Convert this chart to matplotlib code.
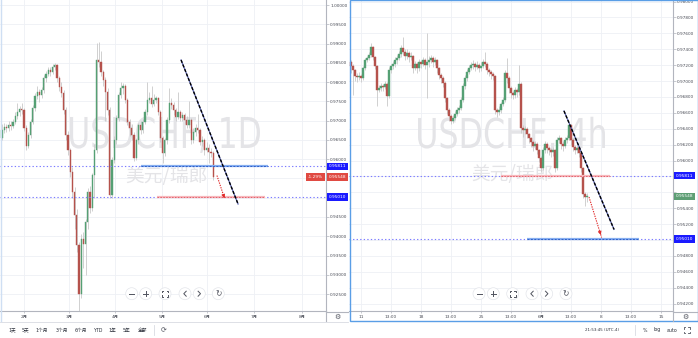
import matplotlib
matplotlib.use("Agg")
import matplotlib.pyplot as plt
from matplotlib.lines import Line2D
from matplotlib.patches import Rectangle, Ellipse, PathPatch
from matplotlib.textpath import TextPath
from matplotlib.font_manager import FontProperties
import matplotlib.transforms as mtransforms
import numpy as np

plt.rcParams['font.family'] = ['DejaVu Sans', 'Noto Sans CJK SC']

# ---- daily candles (left chart) ----
left_first_open = 0.9654
left_close = [0.9675, 0.9683, 0.9680, 0.9688, 0.9685, 0.9696, 0.9711, 0.9722, 0.9730, 0.9727,
              0.9680, 0.9633, 0.9662, 0.9696, 0.9732, 0.9763, 0.9774, 0.9766, 0.9779, 0.9810,
              0.9821, 0.9831, 0.9826, 0.9839, 0.9844, 0.9810, 0.9787, 0.9771, 0.9727, 0.9662,
              0.9623, 0.9566, 0.9514, 0.9454, 0.9376, 0.9251, 0.9394, 0.9381, 0.9436, 0.9514,
              0.9472, 0.9558, 0.9623, 0.9857, 0.9852, 0.9826, 0.9805, 0.9774, 0.9727, 0.9506,
              0.9597, 0.9649, 0.9706, 0.9766, 0.9784, 0.9789, 0.9753, 0.9696, 0.9680, 0.9662,
              0.9602, 0.9649, 0.9688, 0.9675, 0.9696, 0.9722, 0.9753, 0.9758, 0.9743, 0.9753,
              0.9758, 0.9722, 0.9654, 0.9615, 0.9649, 0.9701, 0.9745, 0.9740, 0.9727, 0.9709,
              0.9722, 0.9706, 0.9714, 0.9701, 0.9688, 0.9701, 0.9649, 0.9670, 0.9680, 0.9675,
              0.9644, 0.9649, 0.9623, 0.9628, 0.9618, 0.9615, 0.95548]
left_high = [0.9690, 0.9695, 0.9692, 0.9700, 0.9699, 0.9705, 0.9722, 0.9745, 0.9738, 0.9745,
             0.9732, 0.9688, 0.9670, 0.9705, 0.9740, 0.9772, 0.9790, 0.9782, 0.9788, 0.9818,
             0.9830, 0.9840, 0.9838, 0.9846, 0.9850, 0.9848, 0.9815, 0.9800, 0.9780, 0.9735,
             0.9672, 0.9630, 0.9580, 0.9528, 0.9470, 0.9385, 0.9405, 0.9410, 0.9445, 0.9525,
             0.9530, 0.9565, 0.9640, 0.9902, 0.9905, 0.9880, 0.9832, 0.9812, 0.9785, 0.9735,
             0.9605, 0.9660, 0.9715, 0.9775, 0.9800, 0.9798, 0.9795, 0.9760, 0.9705, 0.9690,
             0.9670, 0.9655, 0.9695, 0.9700, 0.9705, 0.9730, 0.9800, 0.9775, 0.9790, 0.9770,
             0.9765, 0.9762, 0.9728, 0.9660, 0.9655, 0.9710, 0.9785, 0.9760, 0.9748, 0.9732,
             0.9775, 0.9728, 0.9722, 0.9720, 0.9712, 0.9750, 0.9706, 0.9680, 0.9690, 0.9718,
             0.9682, 0.9660, 0.9655, 0.9645, 0.9640, 0.9630, 0.9620]
left_low = [0.9650, 0.9668, 0.9670, 0.9672, 0.9676, 0.9680, 0.9690, 0.9705, 0.9712, 0.9718,
            0.9672, 0.9625, 0.9628, 0.9655, 0.9690, 0.9725, 0.9755, 0.9748, 0.9760, 0.9772,
            0.9800, 0.9815, 0.9815, 0.9820, 0.9832, 0.9800, 0.9778, 0.9762, 0.9718, 0.9650,
            0.9610, 0.9555, 0.9500, 0.9420, 0.9360, 0.9185, 0.9240, 0.9318, 0.9300, 0.9420,
            0.9460, 0.9465, 0.9500, 0.9615, 0.9840, 0.9815, 0.9790, 0.9700, 0.9715, 0.9500,
            0.9500, 0.9590, 0.9640, 0.9700, 0.9760, 0.9770, 0.9745, 0.9688, 0.9660, 0.9650,
            0.9595, 0.9598, 0.9640, 0.9665, 0.9668, 0.9690, 0.9715, 0.9745, 0.9735, 0.9738,
            0.9745, 0.9715, 0.9645, 0.9590, 0.9608, 0.9640, 0.9695, 0.9730, 0.9715, 0.9700,
            0.9705, 0.9698, 0.9700, 0.9690, 0.9680, 0.9682, 0.9640, 0.9642, 0.9660, 0.9668,
            0.9638, 0.9635, 0.9612, 0.9618, 0.9590, 0.9605, 0.9545]
left_months = ['2月', '3月', '4月', '5月', '6月', '7月', '8月']
left_month_pos = [10, 30.45, 51.4, 72.7, 93.2, 114.5, 136.4]

# ---- 4h candles (right chart) ----
right_first_open = 0.97239
right_close = [0.97189, 0.97138, 0.97063, 0.97050, 0.97063, 0.97038, 0.97164, 0.97264, 0.97289, 0.97327,
               0.97428, 0.97302, 0.97189, 0.96887, 0.96912, 0.96937, 0.96925, 0.96962, 0.96811, 0.97138,
               0.97189, 0.97214, 0.97264, 0.97289, 0.97340, 0.97415, 0.97365, 0.97315, 0.97352, 0.97302,
               0.97315, 0.97164, 0.97214, 0.97164, 0.97239, 0.97214, 0.97264, 0.97201, 0.97239, 0.97264,
               0.97289, 0.97239, 0.97264, 0.97164, 0.97076, 0.97038, 0.96975, 0.96786, 0.96635, 0.96560,
               0.96497, 0.96535, 0.96585, 0.96635, 0.96660, 0.96761, 0.96937, 0.97038, 0.97113, 0.97164,
               0.97201, 0.97214, 0.97176, 0.97201, 0.97164, 0.97189, 0.97239, 0.97214, 0.97138, 0.97113,
               0.97088, 0.97063, 0.96635, 0.96610, 0.96635, 0.96711, 0.96761, 0.97101, 0.97038, 0.96912,
               0.96849, 0.96824, 0.96887, 0.96862, 0.96962, 0.96409, 0.96384, 0.96396, 0.96333, 0.96283,
               0.96233, 0.96182, 0.96207, 0.96132, 0.96031, 0.95906, 0.96132, 0.96207, 0.96157, 0.96132,
               0.96107, 0.96132, 0.95906, 0.96258, 0.96283, 0.96207, 0.96182, 0.96258, 0.96283, 0.96447,
               0.96258, 0.96170, 0.96132, 0.96157, 0.96094, 0.95906, 0.95578, 0.95541, 0.95548]
right_high = [0.97264, 0.97214, 0.97150, 0.97100, 0.97113, 0.97088, 0.97189, 0.97290, 0.97315, 0.97365,
              0.97480, 0.97440, 0.97320, 0.97200, 0.96950, 0.96980, 0.96960, 0.97000, 0.96990, 0.97170,
              0.97220, 0.97250, 0.97300, 0.97330, 0.97380, 0.97450, 0.97554, 0.97400, 0.97400, 0.97380,
              0.97360, 0.97330, 0.97250, 0.97240, 0.97280, 0.97260, 0.97300, 0.97290, 0.97604, 0.97310,
              0.97330, 0.97310, 0.97300, 0.97280, 0.97180, 0.97100, 0.97060, 0.97000, 0.96800, 0.96660,
              0.96580, 0.96570, 0.96620, 0.96670, 0.96700, 0.96800, 0.96970, 0.97080, 0.97150, 0.97200,
              0.97240, 0.97260, 0.97240, 0.97250, 0.97230, 0.97240, 0.97280, 0.97365, 0.97240, 0.97160,
              0.97140, 0.97110, 0.97080, 0.96660, 0.96680, 0.96740, 0.96800, 0.97140, 0.97289, 0.97060,
              0.96940, 0.96880, 0.96920, 0.96910, 0.97201, 0.96990, 0.96450, 0.96440, 0.96420, 0.96350,
              0.96300, 0.96260, 0.96250, 0.96230, 0.96150, 0.96060, 0.96170, 0.96250, 0.96230, 0.96180,
              0.96160, 0.96170, 0.96150, 0.96300, 0.96320, 0.96300, 0.96240, 0.96290, 0.96320, 0.96480,
              0.96460, 0.96280, 0.96200, 0.96190, 0.96180, 0.96110, 0.95920, 0.95600, 0.95590]
right_low = [0.97100, 0.96824, 0.97000, 0.96990, 0.97010, 0.96990, 0.97010, 0.97140, 0.97240, 0.97270,
             0.97300, 0.97270, 0.97150, 0.96680, 0.96860, 0.96880, 0.96880, 0.96900, 0.96680, 0.96780,
             0.97100, 0.97150, 0.97180, 0.97220, 0.97260, 0.97300, 0.97330, 0.97260, 0.97280, 0.97240,
             0.97260, 0.97100, 0.97140, 0.97100, 0.97130, 0.97160, 0.97190, 0.97150, 0.96786, 0.97180,
             0.97230, 0.97180, 0.97200, 0.97100, 0.97020, 0.96980, 0.96920, 0.96740, 0.96580, 0.96500,
             0.96460, 0.96470, 0.96510, 0.96560, 0.96600, 0.96640, 0.96740, 0.96900, 0.97000, 0.97090,
             0.97140, 0.97150, 0.97120, 0.97150, 0.97110, 0.97130, 0.97160, 0.97170, 0.97090, 0.97060,
             0.97030, 0.97010, 0.96590, 0.96550, 0.96570, 0.96600, 0.96690, 0.96730, 0.96980, 0.96850,
             0.96790, 0.96770, 0.96790, 0.96800, 0.96830, 0.96350, 0.96300, 0.96330, 0.96280, 0.96220,
             0.96170, 0.96120, 0.96140, 0.96080, 0.95980, 0.95850, 0.95880, 0.96100, 0.96100, 0.96070,
             0.96050, 0.96060, 0.95850, 0.95880, 0.96220, 0.96150, 0.96120, 0.96160, 0.96220, 0.96260,
             0.96200, 0.96120, 0.96080, 0.96100, 0.96040, 0.95860, 0.95530, 0.95430, 0.95480]
right_times = ['11', '13:00', '18', '13:00', '25', '13:00', '6月', '13:00', '8', '13:00', '15']
right_time_pos = [5, 20, 35, 50, 65, 80, 95, 110, 125, 140, 155]

# drawn levels / tools
level_hi = 0.95811
level_lo = 0.95010
last_price = 0.95548
change_pct = '-1.29%'
left_trend = [(81.4, 0.98573), (107.3, 0.94836)]
left_arrow = [(97.7, 0.95575), (101.1, 0.94992)]
left_blue_seg = (63.2, 120.9)
left_pink_seg = (70.5, 119.5)
right_trend = [(106.5, 0.96623), (131.5, 0.95134)]
right_arrow = [(119.0, 0.95541), (125.3, 0.95031)]
right_pink_seg = (75.0, 129.5)
right_blue_seg = (88.0, 144.0)

UP = '#55a074'
DOWN = '#b5524c'
WICK = '#c9c9c9'
GRID = '#eef0f5'
AXIS = '#b2b5be'
TXT = '#4a4d57'
DOTBLUE = '#7b7bff'
WMARK = '#e4e4e7'

W, H = 698, 338
fig = plt.figure(figsize=(W / 100, H / 100), dpi=100)
fig.patch.set_facecolor('white')


def fx(x):
    return x / W


def fy(y):
    return 1 - y / H


def fig_line(xs, ys, **kw):
    fig.add_artist(Line2D([fx(x) for x in xs], [fy(y) for y in ys], **kw))


def candles(ax, first_open, close, high, low):
    opens = [first_open] + close[:-1]
    x = np.arange(len(close))
    o = np.array(opens)
    c = np.array(close)
    top = np.maximum(np.array(high), np.maximum(o, c))
    bot = np.minimum(np.array(low), np.minimum(o, c))
    ax.vlines(x, bot, top, color=WICK, lw=0.6, zorder=2)
    cols = [UP if cc >= oo else DOWN for oo, cc in zip(o, c)]
    ax.bar(x, np.abs(c - o), bottom=np.minimum(o, c), width=0.62,
           color=cols, edgecolor=cols, lw=0.3, zorder=3)


def style_axis(ax, yticks, hidden, xpos, xlabels):
    ax.set_facecolor('white')
    for s in ('top', 'left'):
        ax.spines[s].set_visible(False)
    for s in ('right', 'bottom'):
        ax.spines[s].set_color(AXIS)
        ax.spines[s].set_linewidth(0.8)
    ax.yaxis.tick_right()
    ax.set_yticks(yticks)
    ax.set_yticklabels(['' if round(v, 3) in hidden else '{:.5f}'.format(v) for v in yticks])
    ax.set_xticks(xpos)
    ax.set_xticklabels(xlabels)
    ax.tick_params(axis='y', labelsize=3.1, length=2, width=0.5, pad=1,
                   colors=AXIS, labelcolor=TXT)
    ax.tick_params(axis='x', labelsize=3.1, length=1.5, width=0.5, pad=1.5,
                   colors=AXIS, labelcolor=TXT)
    ax.grid(True, color=GRID, lw=0.6, zorder=0)
    ax.set_axisbelow(True)


def watermark(ax, text, x0, x1, cap_top, cap_bot):
    # big faint symbol text, stretched to the box it fills in the screenshot
    tp = TextPath((0, 0), text, size=1, prop=FontProperties(family='DejaVu Sans'))
    ext = tp.get_extents()
    tr = (mtransforms.Affine2D().translate(-ext.x0, 0)
          .scale((x1 - x0) / ext.width, (cap_bot - cap_top) / 0.729)
          .translate(x0, H - cap_bot))
    ax.add_patch(PathPatch(tr.transform_path(tp), transform=mtransforms.IdentityTransform(),
                           fc=WMARK, ec='none', zorder=1))


def price_tag(ax, y, text, fc, x=1.0085, ha='left'):
    ax.text(x, y, text, transform=ax.get_yaxis_transform(), ha=ha, va='center',
            fontsize=3.1, color='white', clip_on=False, zorder=12,
            bbox=dict(boxstyle='square,pad=0.45', fc=fc, ec='none'))


def tools(ax, trend, arrow, blue_seg, pink_seg):
    ax.axhline(level_hi, color=DOTBLUE, lw=0.8, ls=(0, (1.2, 2)), zorder=4)
    ax.axhline(level_lo, color=DOTBLUE, lw=0.8, ls=(0, (1.2, 2)), zorder=4)
    by, py = blue_seg[2], pink_seg[2]
    ax.plot(blue_seg[:2], [by, by], color='#86aef0', lw=1.6, zorder=5, solid_capstyle='butt')
    ax.plot(blue_seg[:2], [by, by], color='#2f5fc9', lw=0.7, ls=(0, (2, 1.5)), zorder=6)
    ax.plot(pink_seg[:2], [py, py], color='#f7b8bd', lw=1.6, zorder=5, solid_capstyle='butt')
    ax.plot(pink_seg[:2], [py, py], color='#e2606b', lw=0.7, ls=(0, (1.5, 1.5)), zorder=6)
    tx = [trend[0][0], trend[1][0]]
    ty = [trend[0][1], trend[1][1]]
    ax.plot(tx, ty, color='#5a64b0', lw=0.9, zorder=7)
    ax.plot(tx, ty, color='black', lw=1.0, ls=(0, (2.2, 1.3)), zorder=8)
    (x0, y0), (x1, y1) = arrow
    ax.plot([x0, x1], [y0, y1], color='#e02b2b', lw=0.8, ls=(0, (1.2, 1)), zorder=8)
    ax.annotate('', xy=(x1, y1), xytext=(x1 - (x1 - x0) * 0.2, y1 - (y1 - y0) * 0.2),
                arrowprops=dict(arrowstyle='-|>', color='#e02b2b', lw=0.6, mutation_scale=5),
                zorder=9)


# ---- left chart ----
ax1 = fig.add_axes([0, fy(311), fx(326), 311 / H])
candles(ax1, left_first_open, left_close, left_high, left_low)
style_axis(ax1, np.round(np.arange(0.925, 1.00001, 0.005), 3), {0.955, 0.95},
           left_month_pos, left_months)
tools(ax1, left_trend, left_arrow, left_blue_seg + (level_hi,), left_pink_seg + (level_lo,))
watermark(ax1, 'USDCHF, 1D', 70, 260, 117, 148)
ax1.text(0.512, 0.434, '美元/瑞郎', transform=ax1.transAxes, ha='center', va='center',
         fontsize=13.5, color=WMARK, family=['Noto Sans CJK SC'], zorder=1)
ax1.set_xlim(-0.909, 147.27)
ax1.set_ylim(0.9206, 1.0013)
price_tag(ax1, level_hi, '0.95811', '#1a1aff')
price_tag(ax1, last_price, '0.95548', '#e04a42')
price_tag(ax1, level_lo, '0.95010', '#1a1aff')
price_tag(ax1, last_price, change_pct, '#e04a42', x=0.991, ha='right')

# ---- right chart ----
ax2 = fig.add_axes([fx(349), fy(311), fx(673 - 349), 311 / H])
candles(ax2, right_first_open, right_close, right_high, right_low)
style_axis(ax2, np.round(np.arange(0.942, 0.98001, 0.002), 3), {0.958, 0.956, 0.95},
           right_time_pos, right_times)
# on the 4h chart the pink band is the upper level, the blue one the lower
tools(ax2, right_trend, right_arrow, right_blue_seg + (level_lo,), right_pink_seg + (level_hi,))
watermark(ax2, 'USDCHF, 4h', 418, 605, 118, 148)
ax2.text(0.503, 0.44, '美元/瑞郎', transform=ax2.transAxes, ha='center', va='center',
         fontsize=13.5, color=WMARK, family=['Noto Sans CJK SC'], zorder=1)
ax2.set_xlim(-1, 161)
ax2.set_ylim(0.94107, 0.98019)
price_tag(ax2, level_hi, '0.95811', '#1a1aff', x=1.0087)
price_tag(ax2, last_price, '0.95548', '#5d9e74', x=1.0087)
price_tag(ax2, level_lo, '0.95010', '#1a1aff', x=1.0087)

# ---- frame pieces ----
fig_line([326, 326], [311, 321], color=AXIS, lw=0.8)
fig_line([326, 348], [311.5, 311.5], color=AXIS, lw=0.8)
fig_line([673, 673], [311, 321], color=AXIS, lw=0.8)
fig_line([673, 697], [311.5, 311.5], color=AXIS, lw=0.8)
fig_line([0, 348], [321.5, 321.5], color='#d8dbe2', lw=0.6)
fig_line([0.5, 0.5], [0, 321], color='#cfdff3', lw=1.0)
fig.add_artist(Rectangle((fx(349.5), fy(321)), fx(697.5 - 349.5), 321 / H, transform=fig.transFigure,
                         fill=False, ec='#5a9ee6', lw=1.0))
fig.text(fx(337), fy(317), '⚙', ha='center', va='center', fontsize=5, color='#50535e')
fig.text(fx(685), fy(317), '⚙', ha='center', va='center', fontsize=5, color='#50535e')


# floating buttons
def buttons(xs, y):
    for k, x in enumerate(xs):
        fig.add_artist(Ellipse((fx(x), fy(y)), 12 / W, 12 / H, transform=fig.transFigure,
                               fc='white', ec='#e3e5ea', lw=0.5, zorder=20))
        kw = dict(color='#50535e', lw=0.7, zorder=21)
        if k == 0:
            fig_line([x - 2.5, x + 2.5], [y, y], **kw)
        elif k == 1:
            fig_line([x - 2.5, x + 2.5], [y, y], **kw)
            fig_line([x, x], [y - 2.5, y + 2.5], **kw)
        elif k == 2:
            for sx in (-1, 1):
                for sy in (-1, 1):
                    fig_line([x + sx * 3, x + sx * 3, x + sx * 1.6],
                             [y + sy * 1.6, y + sy * 3, y + sy * 3], **kw)
        elif k == 3:
            fig_line([x + 1.2, x - 1.2, x + 1.2], [y - 2.5, y, y + 2.5], **kw)
        elif k == 4:
            fig_line([x - 1.2, x + 1.2, x - 1.2], [y - 2.5, y, y + 2.5], **kw)
        else:
            fig.text(fx(x), fy(y), '↻', ha='center', va='center', fontsize=5.5,
                     color='#50535e', zorder=21)


buttons([131.7, 145.7, 165, 185, 199.3, 218.3], 293.7)
buttons([479, 493.3, 512.7, 532, 546.7, 566], 293.7)

# bottom toolbars
for label, x in zip(['1天', '5天', '1个月', '3个月', '6个月', 'YTD', '1年', '5年', '全部'],
                    [12, 26, 42, 62, 81, 98.7, 112.7, 126.7, 142.7]):
    fig.text(fx(x), fy(330), label, ha='center', va='center', fontsize=3.4, color='#2a2e39')
fig_line([154, 154], [325, 335], color='#d8dbe2', lw=0.6)
fig.text(fx(164), fy(330), '⟳', ha='center', va='center', fontsize=5, color='#50535e')

fig.text(fx(601.7), fy(330), '21:53:45 (UTC-4)', ha='center', va='center', fontsize=2.9, color='#2a2e39')
fig_line([635, 635], [325, 335], color='#d8dbe2', lw=0.6)
fig.text(fx(645), fy(330), '%', ha='center', va='center', fontsize=3.4, color='#2a2e39')
fig.text(fx(656.7), fy(330), 'log', ha='center', va='center', fontsize=3.4, color='#2a2e39')
fig.text(fx(671.7), fy(330), 'auto', ha='center', va='center', fontsize=3.4, color='#2a2e39')
for sx in (-1, 1):
    for sy in (-1, 1):
        fig_line([686.7 + sx * 3, 686.7 + sx * 3, 686.7 + sx * 1.5],
                 [330 + sy * 1.5, 330 + sy * 3, 330 + sy * 3], color='#50535e', lw=0.6)

fig.savefig('out.png', dpi=100, facecolor='white')
